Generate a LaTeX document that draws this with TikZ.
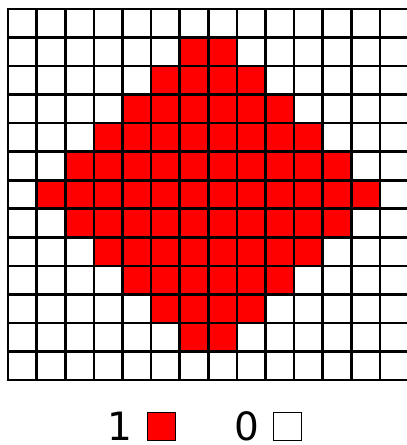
\documentclass[tikz,border=0pt]{standalone}
\usepackage{fontspec}
\setmainfont{DejaVu Sans}
\usepackage{tikz}
\usetikzlibrary{positioning}
\tikzset{
  gridline/.style={draw=black,line width=2.6pt},
  bitcell/.style={fill=red},
  legendbox/.style={draw=black,line width=1.5pt,minimum size=28pt,inner sep=0pt},
  legendlabel/.style={inner sep=0pt,font=\fontsize{39}{46}\selectfont}
}
\begin{document}
\begin{tikzpicture}[x=1pt,y=-1pt]
  \useasboundingbox (0,0) rectangle (407,445);
  \clip (0,0) rectangle (407,445);
  % cells set to 1
  \foreach \r in {1,...,11} {
    \pgfmathtruncatemacro\h{6-abs(\r-6)}
    \pgfmathtruncatemacro\a{7-\h}
    \pgfmathtruncatemacro\b{6+\h}
    \foreach \c in {\a,...,\b}
      \fill[bitcell] (8+\c*28.6,9+\r*28.54) rectangle ++(28.6,28.54);
  }
  % grid
  \foreach \c in {0,...,13}
    \draw[gridline] (8+\c*28.6,9) -- (8+\c*28.6,380);
  \foreach \r in {0,...,13}
    \draw[gridline] (6.7,9+\r*28.54) -- (410,9+\r*28.54);
  % legend
  \node[legendlabel] (one) at (120,426.5) {1};
  \node[legendbox,fill=red,right=14pt of one] (onebox) {};
  \node[legendlabel] (zero) at (247,426.5) {0};
  \node[legendbox,fill=white,right=13pt of zero] (zerobox) {};
\end{tikzpicture}
\end{document}
